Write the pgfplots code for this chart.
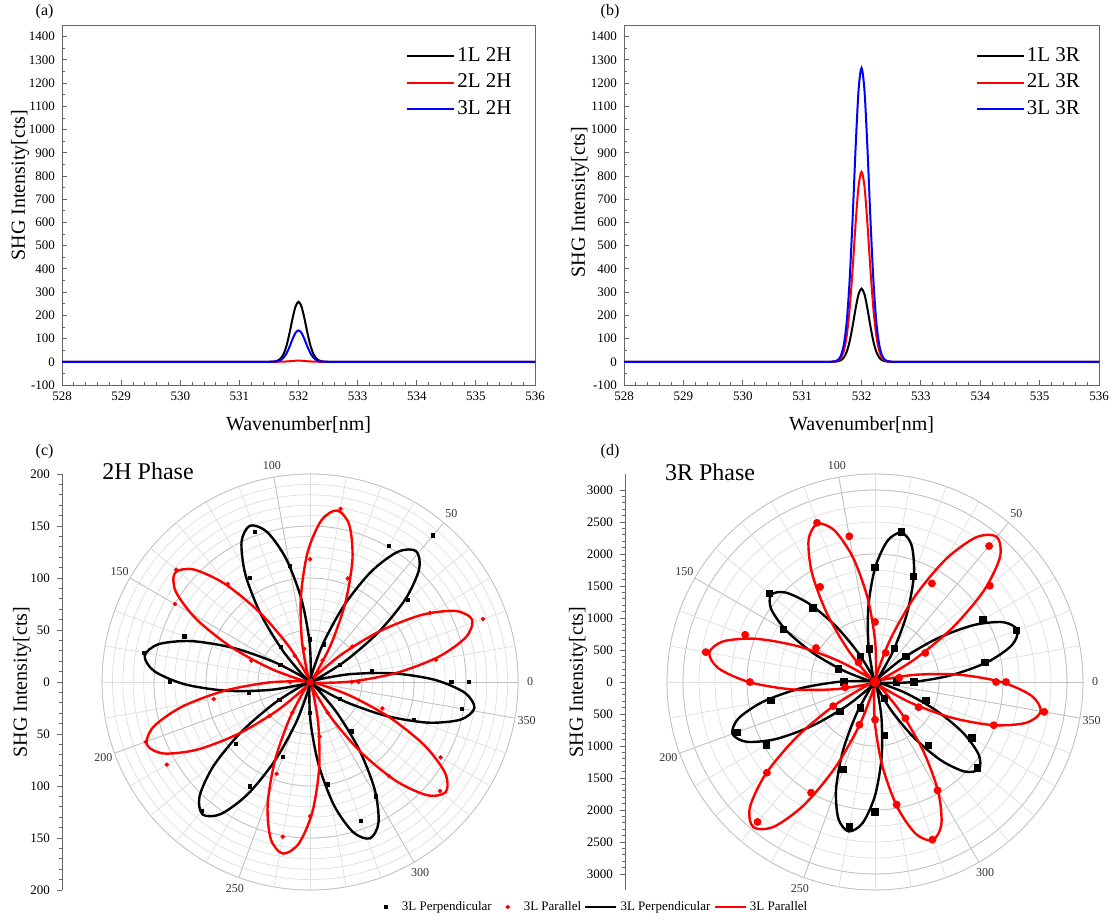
\documentclass[border=0pt]{standalone}
\usepackage{fontspec}
\setmainfont{Liberation Serif}
\usepackage{pgfplots}
\pgfplotsset{compat=1.18}
\pgfplotsset{
  markleg/.style={legend image code/.code={\path[draw=none,fill=none] (0pt,0pt) -- (13pt,0pt);\draw[mark repeat=2,mark phase=2,##1] plot coordinates {(0pt,0pt) (6.5pt,0pt) (13pt,0pt)};}},
  lineleg/.style={legend image code/.code={\draw[##1] (0pt,0pt) -- (15.5pt,0pt);}},
  topleg/.style={legend image code/.code={\draw[##1] (0pt,0pt) -- (23.5pt,0pt);}},
  specax/.style={scale only axis, height=180pt, anchor=north west,
    xmin=528, xmax=536, ymin=-100, ymax=1450,
    xtick={528,529,...,536}, ytick={-100,0,100,...,1400},
    minor x tick num=4, minor y tick num=1, tick align=inside,
    xtick pos=bottom, ytick pos=left,
    axis line style={black!60}, tick style={black!60, line width=0.4pt},
    major tick length=2.5pt, minor tick length=1.3pt,
    tick label style={font=\fontsize{6.5}{7}\selectfont},
    /pgf/number format/assume math mode=true,
    /pgf/number format/set thousands separator={},
    legend style={draw=none, fill=none, inner sep=0pt, anchor=north west,
      font=\fontsize{10.5}{12}\selectfont, row sep=1.7pt,
      nodes={inner sep=1pt, text height=7.2pt, text depth=2.3pt}},
    legend cell align=left},
  polax/.style={anchor=south west, clip=false, hide x axis, axis y line*=left,
    y axis line style={black!60}, tick style={black!60, line width=0.4pt},
    tick align=outside, major tick length=2.5pt, minor tick length=1.3pt,
    minor y tick num=4,
    tick label style={font=\fontsize{6.5}{7}\selectfont}}
}
\begin{document}
\begin{tikzpicture}
\useasboundingbox (0,0) rectangle (556.5pt,-461pt);
% ---------------- (a)
\begin{axis}[specax, at={(31pt,-12.5pt)}, width=236.5pt,
  legend style={at={(0.727,0.946)}}]
\addplot[black, line width=1pt, smooth, topleg] coordinates {(528,0) (531,0) (531.45,0) (531.5,0.1) (531.55,0.4) (531.6,1.5) (531.65,5.1) (531.7,14.5) (531.75,34.8) (531.8,71.7) (531.85,125.6) (531.9,187.3) (531.95,238.1) (532,258) (532.05,238.1) (532.1,187.3) (532.15,125.6) (532.2,71.7) (532.25,34.8) (532.3,14.5) (532.35,5.1) (532.4,1.5) (532.45,0.4) (532.5,0.1) (532.55,0) (533,0) (536,0)};
\addlegendentry{1L 2H}
\addplot[red, line width=1pt, smooth, topleg] coordinates {(528,0) (531,0) (531.6,0) (531.65,0.1) (531.7,0.3) (531.75,0.7) (531.8,1.4) (531.85,2.4) (531.9,3.6) (531.95,4.6) (532,5) (532.05,4.6) (532.1,3.6) (532.15,2.4) (532.2,1.4) (532.25,0.7) (532.3,0.3) (532.35,0.1) (532.4,0) (533,0) (536,0)};
\addlegendentry{2L 2H}
\addplot[blue, line width=1pt, smooth, topleg] coordinates {(528,0) (531,0) (531.5,0) (531.55,0.2) (531.6,0.8) (531.65,2.7) (531.7,7.6) (531.75,18.2) (531.8,37.5) (531.85,65.7) (531.9,98) (531.95,124.6) (532,135) (532.05,124.6) (532.1,98) (532.15,65.7) (532.2,37.5) (532.25,18.2) (532.3,7.6) (532.35,2.7) (532.4,0.8) (532.45,0.2) (532.5,0) (533,0) (536,0)};
\addlegendentry{3L 2H}
\end{axis}
% ---------------- (b)
\begin{axis}[specax, at={(312pt,-12.5pt)}, width=237.5pt,
  legend style={at={(0.740,0.946)}}]
\addplot[black, line width=1pt, smooth, topleg] coordinates {(528,0) (531,0) (531.45,0) (531.5,0.1) (531.55,0.5) (531.6,1.9) (531.65,6.2) (531.7,17.7) (531.75,42.5) (531.8,87.6) (531.85,153.4) (531.9,228.7) (531.95,290.7) (532,315) (532.05,290.7) (532.1,228.7) (532.15,153.4) (532.2,87.6) (532.25,42.5) (532.3,17.7) (532.35,6.2) (532.4,1.9) (532.45,0.5) (532.5,0.1) (532.55,0) (533,0) (536,0)};
\addlegendentry{1L 3R}
\addplot[red, line width=1pt, smooth, topleg] coordinates {(528,0) (531,0) (531.45,0) (531.5,0.3) (531.55,1.3) (531.6,4.9) (531.65,16.2) (531.7,45.9) (531.75,110.4) (531.8,227.4) (531.85,398.4) (531.9,593.9) (531.95,755) (532,818) (532.05,755) (532.1,593.9) (532.15,398.4) (532.2,227.4) (532.25,110.4) (532.3,45.9) (532.35,16.2) (532.4,4.9) (532.45,1.3) (532.5,0.3) (532.55,0) (533,0) (536,0)};
\addlegendentry{2L 3R}
\addplot[blue, line width=1pt, smooth, topleg] coordinates {(528,0) (531,0) (531.45,0) (531.5,0.4) (531.55,1.9) (531.6,7.6) (531.65,25) (531.7,71) (531.75,170.8) (531.8,351.7) (531.85,616.1) (531.9,918.4) (531.95,1167.6) (532,1265) (532.05,1167.6) (532.1,918.4) (532.15,616.1) (532.2,351.7) (532.25,170.8) (532.3,71) (532.35,25) (532.4,7.6) (532.45,1.9) (532.5,0.4) (532.55,0) (533,0) (536,0)};
\addlegendentry{3L 3R}
\end{axis}
% labels top
\node[font=\fontsize{8}{9}\selectfont] at (22.3pt,-5.8pt) {(a)};
\node[font=\fontsize{8}{9}\selectfont] at (305pt,-5.8pt) {(b)};
\node[font=\fontsize{10}{12}\selectfont] at (149.25pt,-212.5pt) {Wavenumber[nm]};
\node[font=\fontsize{10}{12}\selectfont] at (430.75pt,-212.5pt) {Wavenumber[nm]};
\node[font=\fontsize{10}{12}\selectfont, rotate=90] at (10pt,-92.5pt) {SHG Intensity[cts]};
\node[font=\fontsize{10}{12}\selectfont, rotate=90] at (290pt,-101pt) {SHG Intensity[cts]};
% ---------------- (c)
\begin{axis}[polax, at={(31pt,-445pt)}, x=0.52pt, y=0.52pt,
  xmin=-238.5, xmax=215, ymin=-200, ymax=200,
  ytick={-200,-150,...,200}, yticklabels={200,150,100,50,0,50,100,150,200},
  legend columns=4,
  legend style={at={(1.1228,-0.041)}, anchor=center, draw=none, fill=none,
    font=\fontsize{6.5}{7}\selectfont, inner sep=0pt, nodes={inner sep=1.5pt}},
  ]
\pgfplotsinvokeforeach{10,20,...,200}{\draw[black!13, line width=0.35pt] (axis cs:0,0) circle[radius=#1*0.52pt];}
\pgfplotsinvokeforeach{50,100,150,200}{\draw[black!25, line width=0.35pt] (axis cs:0,0) circle[radius=#1*0.52pt];}
\pgfplotsinvokeforeach{0,10,...,350}{\draw[black!13, line width=0.35pt] (axis cs:0,0) -- ++(#1:104pt);}
\pgfplotsinvokeforeach{0,50,...,350}{\draw[black!25, line width=0.35pt] (axis cs:0,0) -- ++(#1:104pt);}
\pgfplotsinvokeforeach{0,50,...,350}{\path (axis cs:0,0) ++(#1:110pt) node[font=\fontsize{6}{7}\selectfont, text=black!80] {#1};}
\addlegendimage{only marks, mark=square*, mark size=0.8pt, black, markleg}
\addlegendentry{3L Perpendicular}
\addlegendimage{only marks, mark=*, mark size=0.9pt, red, markleg}
\addlegendentry{3L Parallel}
\addlegendimage{black, line width=1.2pt, lineleg}
\addlegendentry{3L Perpendicular}
\addlegendimage{red, line width=1.2pt, lineleg}
\addlegendentry{3L Parallel}
% fitted curves
\addplot[forget plot, black, line width=1.2pt, smooth, data cs=polar] coordinates {
(-39,0) (-34,10.7) (-29,40) (-24,80) (-19,120) (-14,149.3) (-9,160) (-4,149.3) (1,120) (6,80) (11,40) (16,10.7)
(21,0) (26,10.9) (31,40.5) (36,81) (41,121.5) (46,151.1) (51,162) (56,151.1) (61,121.5) (66,81) (71,40.5) (76,10.9)
(81,0) (86,10.8) (91,40.3) (96,80.5) (101,120.8) (106,150.2) (111,161) (116,150.2) (121,120.8) (126,80.5) (131,40.3) (136,10.8)
(141,0) (146,10.8) (151,40.3) (156,80.5) (161,120.8) (166,150.2) (171,161) (176,150.2) (181,120.8) (186,80.5) (191,40.3) (196,10.8)
(201,0) (206,11) (211,41) (216,82) (221,123) (226,153) (231,164) (236,153) (241,123) (246,82) (251,41) (256,11)
(261,0) (266,10.8) (271,40.3) (276,80.5) (281,120.8) (286,150.2) (291,161) (296,150.2) (301,120.8) (306,80.5) (311,40.3) (316,10.8) (321,0)};
\addplot[forget plot, red, line width=1.2pt, smooth, data cs=polar] coordinates {
(-9,0) (-4,11.2) (1,41.8) (6,83.5) (11,125.3) (16,155.8) (21,167) (26,155.8) (31,125.3) (36,83.5) (41,41.8) (46,11.2)
(51,0) (56,11.2) (61,41.8) (66,83.5) (71,125.3) (76,155.8) (81,167) (86,155.8) (91,125.3) (96,83.5) (101,41.8) (106,11.2)
(111,0) (116,11.2) (121,41.8) (126,83.5) (131,125.3) (136,155.8) (141,167) (146,155.8) (151,125.3) (156,83.5) (161,41.8) (166,11.2)
(171,0) (176,11.3) (181,42) (186,84) (191,126) (196,156.7) (201,168) (206,156.7) (211,126) (216,84) (221,42) (226,11.3)
(231,0) (236,11.2) (241,41.8) (246,83.5) (251,125.3) (256,155.8) (261,167) (266,155.8) (271,125.3) (276,83.5) (281,41.8) (286,11.2)
(291,0) (296,11.3) (301,42) (306,84) (311,126) (316,156.7) (321,168) (326,156.7) (331,126) (336,84) (341,42) (346,11.3) (351,0)};
% measured points
\addplot[forget plot, only marks, mark=square*, mark size=0.8pt, black, data cs=polar] coordinates {
(0,136) (10,60) (20,3) (30,33) (40,123) (50,184) (60,151) (70,38.5) (80,3) (90,41) (100,113) (110,154) (120,116) (130,44) (140,3) (150,33) (160,128.5) (170,162) (180,135) (190,60) (200,3) (210,34) (220,93) (230,162) (240,116) (250,77) (260,3) (270,30) (280,100) (290,142) (300,127) (310,62) (320,3) (330,33) (340,106) (350,148) (360,153)};
\addplot[forget plot, only marks, mark=*, mark size=0.9pt, red, data cs=polar] coordinates {
(0,46.5) (10,123) (20,177) (30,133) (40,53) (50,2) (60,24) (70,106) (80,169) (90,118) (100,32.5) (110,2) (120,29) (130,123) (140,168) (150,150) (160,60) (170,2) (180,19) (190,94) (200,168) (210,159) (220,51) (230,2) (240,34) (250,94) (260,151) (270,129) (280,53) (290,2) (300,34) (310,118) (320,163) (330,145) (340,74) (350,2) (360,40)};
\end{axis}
% ---------------- (d)
\begin{axis}[polax, at={(312.5pt,-445pt)}, x=0.032pt, y=0.032pt,
  xmin=-3906, xmax=3300, ymin=-3250, ymax=3250,
  ytick={-3000,-2500,...,3000},
  yticklabels={3000,2500,2000,1500,1000,500,0,500,1000,1500,2000,2500,3000},
  ]
\pgfplotsinvokeforeach{250,500,...,3250}{\draw[black!13, line width=0.35pt] (axis cs:0,0) circle[radius=#1*0.032pt];}
\pgfplotsinvokeforeach{1000,2000,3000,3250}{\draw[black!25, line width=0.35pt] (axis cs:0,0) circle[radius=#1*0.032pt];}
\pgfplotsinvokeforeach{0,10,...,350}{\draw[black!13, line width=0.35pt] (axis cs:0,0) -- ++(#1:104pt);}
\pgfplotsinvokeforeach{0,50,...,350}{\draw[black!25, line width=0.35pt] (axis cs:0,0) -- ++(#1:104pt);}
\pgfplotsinvokeforeach{0,50,...,350}{\path (axis cs:0,0) ++(#1:110pt) node[font=\fontsize{6}{7}\selectfont, text=black!80] {#1};}
\addplot[black, line width=1.2pt, smooth, data cs=polar] coordinates {
(-10,0) (-5,158.8) (0,592.5) (5,1185) (10,1777.5) (15,2211) (20,2370) (25,2211) (30,1777.5) (35,1185) (40,592.5) (45,158.8)
(50,0) (55,158.8) (60,592.5) (65,1185) (70,1777.5) (75,2211) (80,2370) (85,2211) (90,1777.5) (95,1185) (100,592.5) (105,158.8)
(110,0) (115,142) (120,530) (125,1060) (130,1590) (135,1978) (140,2120) (145,1978) (150,1590) (155,1060) (160,530) (165,142)
(170,0) (175,158.8) (180,592.5) (185,1185) (190,1777.5) (195,2211) (200,2370) (205,2211) (210,1777.5) (215,1185) (220,592.5) (225,158.8)
(230,0) (235,158.8) (240,592.5) (245,1185) (250,1777.5) (255,2211) (260,2370) (265,2211) (270,1777.5) (275,1185) (280,592.5) (285,158.8)
(290,0) (295,142) (300,530) (305,1060) (310,1590) (315,1978) (320,2120) (325,1978) (330,1590) (335,1060) (340,530) (345,142) (350,0)};
\addplot[red, line width=1.2pt, smooth, data cs=polar] coordinates {
(20,0) (25,198.3) (30,740) (35,1480) (40,2220) (45,2762) (50,2960) (55,2762) (60,2220) (65,1480) (70,740) (75,198.3)
(80,0) (85,176.2) (90,657.5) (95,1315) (100,1972.5) (105,2454) (110,2630) (115,2454) (120,1972.5) (125,1315) (130,657.5) (135,176.2)
(140,0) (145,176.2) (150,657.5) (155,1315) (160,1972.5) (165,2454) (170,2630) (175,2454) (180,1972.5) (185,1315) (190,657.5) (195,176.2)
(200,0) (205,198.3) (210,740) (215,1480) (220,2220) (225,2762) (230,2960) (235,2762) (240,2220) (245,1480) (250,740) (255,198.3)
(260,0) (265,176.2) (270,657.5) (275,1315) (280,1972.5) (285,2454) (290,2630) (295,2454) (300,1972.5) (305,1315) (310,657.5) (315,176.2)
(320,0) (325,176.2) (330,657.5) (335,1315) (340,1972.5) (345,2454) (350,2630) (355,2454) (360,1972.5) (365,1315) (370,657.5) (375,176.2) (380,0)};
\addplot[only marks, mark=square*, mark size=1.6pt, black, data cs=polar] coordinates {
(0,610) (10,1746) (20,2354) (30,1949) (40,629) (50,20) (60,608) (70,1751) (80,2381) (90,1787) (100,528) (110,20) (120,455) (130,1512) (140,2152) (150,1650) (160,606) (170,30) (180,485) (190,1653) (200,2294) (210,1961) (220,720) (230,30) (240,464) (250,1458) (260,2300) (270,2032) (280,846) (290,30) (300,291) (310,1296) (320,2090) (330,1751) (340,845) (350,40) (360,339)};
\addplot[only marks, mark=*, mark size=1.75pt, red, data cs=polar] coordinates {
(0,1892) (10,385) (20,20) (30,907) (40,2341) (50,2773) (60,1779) (70,485) (80,20) (90,938) (100,2312) (110,2647) (120,1716) (130,400) (140,20) (150,1064) (160,2158) (170,2685) (180,1954) (190,474) (200,20) (210,754) (220,2204) (230,2855) (240,1997) (250,710) (260,20) (270,589) (280,1945) (290,2622) (300,1954) (310,740) (320,20) (330,787) (340,1974) (350,2685) (360,2047)};
\end{axis}
% labels bottom
\node[font=\fontsize{8}{9}\selectfont] at (22.3pt,-225.8pt) {(c)};
\node[font=\fontsize{8}{9}\selectfont] at (305pt,-225.8pt) {(d)};
\node[font=\fontsize{12}{14}\selectfont] at (74pt,-235.5pt) {2H Phase};
\node[font=\fontsize{12}{14}\selectfont] at (355pt,-236pt) {3R Phase};
\node[font=\fontsize{10}{12}\selectfont, rotate=90] at (11pt,-341pt) {SHG Intensity[cts]};
\node[font=\fontsize{10}{12}\selectfont, rotate=90] at (289pt,-341pt) {SHG Intensity[cts]};
\end{tikzpicture}
\end{document}
